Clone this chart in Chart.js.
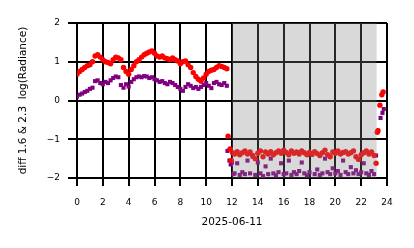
<!DOCTYPE html>
<html>
<head>
<meta charset="utf-8">
<script src="https://cdn.jsdelivr.net/npm/chart.js@4/dist/chart.umd.min.js"></script>
<style>
  html, body { margin: 0; padding: 0; background: #fff; }
  #wrap { width: 414px; height: 248px; }
</style>
</head>
<body>
<div id="wrap"><canvas id="diff-chart" width="414" height="248"></canvas></div>
<script>
// hours of the day (UTC) and the 1.6 / 2.3 log radiance values
var redHours = [
  0.0, 0.2, 0.4, 0.6, 0.8, 1.0, 1.2, 1.4, 1.6, 1.8, 2.0, 2.2, 2.4, 2.6, 2.8, 3.0, 3.2, 3.4, 3.6, 3.8,
  4.0, 4.2, 4.4, 4.6, 4.8, 5.0, 5.2, 5.4, 5.6, 5.8, 6.0, 6.2, 6.4, 6.6, 6.8, 7.0, 7.2, 7.4, 7.6, 7.8,
  8.0, 8.2, 8.4, 8.6, 8.8, 9.0, 9.2, 9.4, 9.6, 9.8, 10.0, 10.2, 10.4, 10.6, 10.8, 11.0, 11.2, 11.4, 11.6,
  11.7, 11.85, 11.95, 12.05,
  12.2, 12.4, 12.6, 12.8, 13.0, 13.2, 13.4, 13.6, 13.8, 14.0, 14.2, 14.4, 14.6, 14.8, 15.0, 15.2, 15.4, 15.6, 15.8,
  16.0, 16.2, 16.4, 16.6, 16.8, 17.0, 17.2, 17.4, 17.6, 17.8, 18.0, 18.2, 18.4, 18.6, 18.8, 19.0, 19.2, 19.4, 19.6, 19.8,
  20.0, 20.2, 20.4, 20.6, 20.8, 21.0, 21.2, 21.4, 21.6, 21.8, 22.0, 22.2, 22.4, 22.6, 22.8, 23.0,
  23.15, 23.25, 23.3, 23.45, 23.6, 23.7
];
var redValues = [
  0.68, 0.75, 0.80, 0.85, 0.90, 0.92, 1.00, 1.15, 1.18, 1.12, 1.05, 1.00, 0.98, 0.95, 1.05, 1.12, 1.10, 1.05, 0.85, 0.75,
  0.68, 0.80, 0.90, 1.00, 1.05, 1.12, 1.18, 1.22, 1.25, 1.28, 1.22, 1.15, 1.12, 1.15, 1.10, 1.08, 1.05, 1.10, 1.05, 1.02,
  0.95, 1.00, 1.02, 0.92, 0.85, 0.72, 0.62, 0.55, 0.50, 0.58, 0.68, 0.75, 0.78, 0.80, 0.85, 0.90, 0.88, 0.85, 0.82,
  -0.92, -1.25, -1.55, -1.35,
  -1.38, -1.32, -1.40, -1.35, -1.30, -1.38, -1.33, -1.42, -1.50, -1.36, -1.30, -1.45, -1.33, -1.38, -1.32, -1.40, -1.35, -1.30, -1.36,
  -1.28, -1.34, -1.40, -1.30, -1.36, -1.33, -1.38, -1.30, -1.35, -1.40, -1.34, -1.38, -1.32, -1.37, -1.42, -1.35, -1.28, -1.40, -1.45, -1.33,
  -1.36, -1.30, -1.38, -1.34, -1.32, -1.38, -1.35, -1.30, -1.45, -1.52, -1.40, -1.35, -1.30, -1.38, -1.33, -1.42,
  -1.62, -0.82, -0.78, -0.12, 0.15, 0.22
];

var purpleHours = [
  0.0, 0.2, 0.4, 0.6, 0.8, 1.0, 1.2, 1.4, 1.6, 1.8, 2.0, 2.2, 2.4, 2.6, 2.8, 3.0, 3.2, 3.4, 3.6, 3.8,
  4.0, 4.2, 4.4, 4.6, 4.8, 5.0, 5.2, 5.4, 5.6, 5.8, 6.0, 6.2, 6.4, 6.6, 6.8, 7.0, 7.2, 7.4, 7.6, 7.8,
  8.0, 8.2, 8.4, 8.6, 8.8, 9.0, 9.2, 9.4, 9.6, 9.8, 10.0, 10.2, 10.4, 10.6, 10.8, 11.0, 11.2, 11.4, 11.6,
  11.65, 11.8, 11.9, 12.0, 12.1,
  12.2, 12.4, 12.6, 12.8, 13.0, 13.2, 13.4, 13.6, 13.8, 14.0, 14.2, 14.4, 14.6, 14.8, 15.0, 15.2, 15.4, 15.6, 15.8,
  16.0, 16.2, 16.4, 16.6, 16.8, 17.0, 17.2, 17.4, 17.6, 17.8, 18.0, 18.2, 18.4, 18.6, 18.8, 19.0, 19.2, 19.4, 19.6, 19.8,
  20.0, 20.2, 20.4, 20.6, 20.8, 21.0, 21.2, 21.4, 21.6, 21.8, 22.0, 22.2, 22.4, 22.6, 22.8, 23.0,
  23.15, 23.3, 23.5, 23.65, 23.75
];
var purpleValues = [
  0.10, 0.15, 0.18, 0.22, 0.25, 0.30, 0.33, 0.50, 0.52, 0.45, 0.42, 0.48, 0.45, 0.52, 0.58, 0.62, 0.60, 0.40, 0.33, 0.42,
  0.36, 0.48, 0.55, 0.60, 0.62, 0.60, 0.63, 0.62, 0.58, 0.60, 0.55, 0.52, 0.48, 0.50, 0.45, 0.42, 0.48, 0.45, 0.40, 0.35,
  0.30, 0.25, 0.35, 0.42, 0.38, 0.32, 0.35, 0.30, 0.35, 0.40, 0.45, 0.38, 0.32, 0.45, 0.48, 0.42, 0.40, 0.45, 0.38,
  -1.30, -1.55, -1.65, -1.60, -1.90,
  -1.88, -1.62, -1.92, -1.85, -1.90, -1.55, -1.88, -1.45, -1.92, -1.60, -1.88, -1.95, -1.70, -1.90, -1.50, -1.88, -1.93, -1.85, -1.62,
  -1.90, -1.88, -1.55, -1.92, -1.85, -1.90, -1.82, -1.60, -1.88, -1.93, -1.85, -1.40, -1.90, -1.78, -1.92, -1.88, -1.50, -1.85, -1.90, -1.75,
  -1.88, -1.82, -1.92, -1.55, -1.85, -1.90, -1.72, -1.88, -1.80, -1.90, -1.85, -1.62, -1.88, -1.92, -1.82, -1.90,
  -1.42, -0.78, -0.45, -0.32, -0.22
];

// shaded (night) interval, in hours
var shadeStart = 12.0;
var shadeEnd = 23.2;

var xTitle = '2025-06-11';
var yTitle = 'diff 1.6 & 2.3  log(Radiance)';

function toPoints(xs, ys) {
    var pts = [];
    for (var i = 0; i < xs.length; i++) {
        pts.push({ x: xs[i], y: ys[i] });
    }
    return pts;
}

// grey span drawn over the points, under the grid
var shadePlugin = {
    id: 'shade',
    afterDatasetsDraw: function(chart) {
        var ctx = chart.ctx;
        var area = chart.chartArea;
        var x = chart.scales.x;
        var x0 = x.getPixelForValue(shadeStart);
        var x1 = x.getPixelForValue(shadeEnd);
        ctx.save();
        ctx.fillStyle = 'rgba(128,128,128,0.3)';
        ctx.fillRect(x0, area.top, x1 - x0, area.bottom - area.top);
        ctx.restore();
    }
};

Chart.defaults.font.family = '"DejaVu Sans", sans-serif';
Chart.defaults.font.size = 9;
Chart.defaults.color = '#000';

var ctx = document.getElementById('diff-chart');
var chart = new Chart(ctx, {
    type: 'scatter',
    data: {
        datasets: [
            {
                label: 'red',
                data: toPoints(redHours, redValues),
                pointStyle: 'circle',
                pointRadius: 2.7,
                pointBorderWidth: 0,
                backgroundColor: '#ff0000',
                borderColor: '#ff0000'
            },
            {
                label: 'purple',
                data: toPoints(purpleHours, purpleValues),
                pointStyle: 'rect',
                pointRadius: 2.9,
                pointBorderWidth: 0,
                backgroundColor: '#800080',
                borderColor: '#800080'
            }
        ]
    },
    options: {
        responsive: false,
        animation: false,
        devicePixelRatio: 1,
        layout: { padding: { top: 23, right: 27, left: 0, bottom: 0 } },
        plugins: {
            legend: { display: false },
            tooltip: { enabled: false }
        },
        scales: {
            x: {
                type: 'linear',
                min: 0,
                max: 24,
                z: 1,
                afterFit: function(scale) { scale.height = 70; },
                ticks: { stepSize: 2, padding: 11, maxRotation: 0, color: '#000' },
                grid: { color: '#000', lineWidth: 2, tickLength: 8, tickColor: '#000', tickWidth: 2 },
                border: { display: true, color: '#000', width: 2 },
                title: { display: true, text: xTitle, color: '#000', font: { size: 10.5 }, padding: { top: 0, bottom: 19 } }
            },
            y: {
                type: 'linear',
                min: -2,
                max: 2,
                z: 1,
                afterFit: function(scale) { scale.width = 77; },
                ticks: {
                    stepSize: 1,
                    padding: 8,
                    color: '#000',
                    callback: function(v) { return String(v).replace('-', '\u2212'); }
                },
                grid: { color: '#000', lineWidth: 2, tickLength: 9, tickColor: '#000', tickWidth: 2 },
                border: { display: true, color: '#000', width: 2 },
                title: { display: true, text: yTitle, color: '#000', font: { size: 10.5 }, padding: { top: 17, bottom: 0 } }
            }
        }
    },
    plugins: [shadePlugin]
});
</script>
</body>
</html>
